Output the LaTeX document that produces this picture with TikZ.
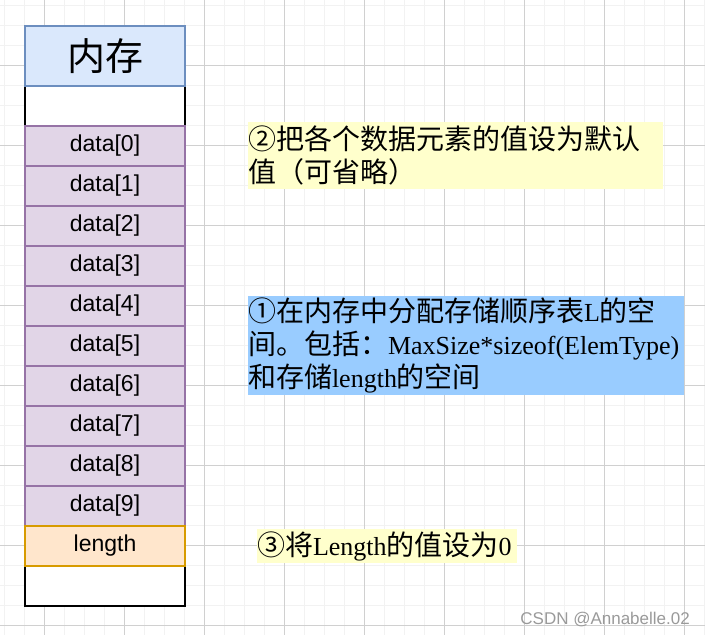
\documentclass[tikz,border=0pt]{standalone}
\usepackage{fontspec}
\setsansfont{Liberation Sans}
\newfontfamily\cjk{Noto Sans CJK SC}
\newfontfamily\lserif{Liberation Serif}
\definecolor{gridminor}{HTML}{F2F2F2}
\definecolor{gridmajor}{HTML}{D0D0D0}
\definecolor{hdrfill}{HTML}{DAE8FC}
\definecolor{hdrdraw}{HTML}{6C8EBF}
\definecolor{datafill}{HTML}{E1D5E7}
\definecolor{datadraw}{HTML}{9673A6}
\definecolor{lenfill}{HTML}{FFE6CC}
\definecolor{lendraw}{HTML}{D79B00}
\definecolor{noteyellow}{HTML}{FFFFCC}
\definecolor{noteblue}{HTML}{99CCFF}
\definecolor{wmark}{HTML}{9A9A9A}
\tikzset{
  gridminorline/.style={draw=gridminor, line width=1.5pt},
  gridmajorline/.style={draw=gridmajor, line width=0.8pt},
  cellbase/.style={minimum width=160pt, inner sep=0pt, outer sep=0pt, line width=1.5pt,
    font=\sffamily\fontsize{23}{27}\selectfont, text=black},
  blankcell/.style={cellbase, draw=black, fill=white, line width=2pt, minimum height=40pt},
  hdrcell/.style={cellbase, draw=hdrdraw, fill=hdrfill, minimum height=60pt,
    font=\cjk\fontsize{38}{44}\selectfont},
  datacell/.style={cellbase, draw=datadraw, fill=datafill, minimum height=40pt},
  lencell/.style={cellbase, draw=lendraw, fill=lenfill, minimum height=40pt},
  notebox/.style={inner sep=0pt, outer sep=0pt, align=left,
    font=\cjk\fontsize{28}{33}\selectfont, text=black},
}
\newcommand{\lat}[1]{{\lserif\fontsize{26}{33}\selectfont #1}}
\begin{document}
\begin{tikzpicture}[x=1pt,y=-1pt]
\useasboundingbox (0,0) rectangle (705,635);
\fill[white] (0,0) rectangle (705,635);
% grid
\foreach \gx in {4.3,24.3,...,704.3} \draw[gridminorline] (\gx,0) -- (\gx,635);
\foreach \gy in {5.3,25.3,...,634.3} \draw[gridminorline] (0,\gy) -- (705,\gy);
\foreach \gx in {44.3,124.3,...,704.3} \draw[gridmajorline] (\gx,0) -- (\gx,635);
\foreach \gy in {65.3,145.3,...,634.3} \draw[gridmajorline] (0,\gy) -- (705,\gy);
% memory column
\node[blankcell] (blank1) at (105,106) {};
\node[blankcell] (blank2) at (105,586) {};
\node[hdrcell] (hdr) at (105,56) {内存};
\foreach \i in {0,...,9} \node[datacell] (d\i) at (105,146+40*\i) {data[\i]};
\node[lencell] (len) at (105,546) {length};
% notes
\node[notebox, fill=noteyellow, text width=415pt, minimum height=67pt] (note2) at (455.5,155.5)
  {②把各个数据元素的值设为默认\\值（可省略）};
\node[notebox, fill=noteblue, text width=436pt, minimum height=99pt] (note1) at (466,345.5)
  {①在内存中分配存储顺序表\lat{L}的空\\间。包括：\lat{MaxSize*sizeof(ElemType)}\\和存储\lat{length}的空间};
\node[notebox, fill=noteyellow, text width=260pt, minimum height=34pt] (note3) at (387,546)
  {③将\lat{Length}的值设为\lat{0}};
% watermark
\node[anchor=east, inner sep=0pt, text=wmark, font=\sffamily\fontsize{17}{20}\selectfont] (wm) at (690,619.5) {CSDN @Annabelle.02};
\end{tikzpicture}
\end{document}
